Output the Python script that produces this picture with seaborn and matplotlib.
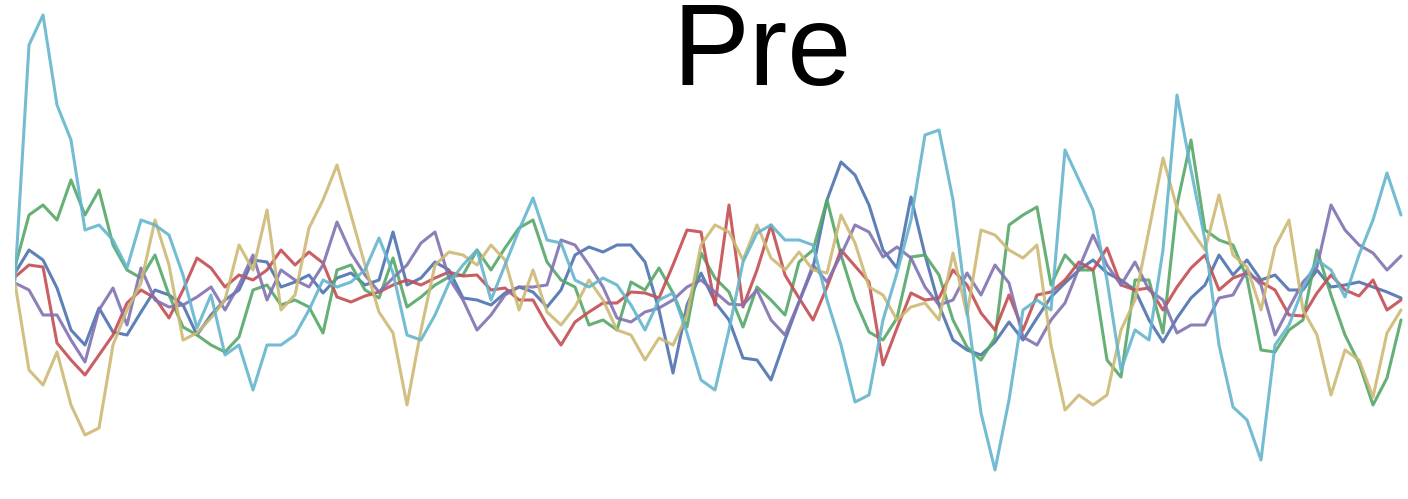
import numpy as np
import pandas as pd
import matplotlib
matplotlib.use("Agg")
import matplotlib.pyplot as plt
import seaborn as sns

# Six traces, 100 samples each (arbitrary amplitude units)
blue = [7,30,20,-8,-50,-65,-28,-52,-55,-32,
        -10,-15,-25,-55,-35,-20,-10,20,18,-7,
        -2,5,-13,2,7,-5,0,48,-5,2,
        18,10,-18,-20,-25,-13,-7,-12,-27,-10,
        25,33,28,35,35,18,-30,-93,-25,7,
        -22,-40,-78,-80,-100,-60,-22,12,80,118,
        105,75,30,12,83,25,-25,-60,-70,-75,
        -62,-42,-60,-38,-17,-3,10,20,7,0,
        -10,-40,-62,-38,-18,-5,25,5,20,0,
        5,-10,-10,10,-7,-5,-2,-7,-12,-18]
green = [13,65,75,60,100,65,90,35,10,2,
         25,-15,-47,-55,-65,-72,-57,-10,-5,-25,
         -20,-27,-53,10,15,-10,-18,22,-27,-17,
         -5,3,5,30,10,32,52,60,18,0,
         -7,-45,-40,-50,-2,-10,12,-13,-47,27,
         2,-12,-47,-7,-20,-35,18,30,80,25,
         -20,-52,-60,-38,23,25,5,-40,-67,-80,
         -58,55,65,73,-5,25,10,10,-80,-97,
         0,0,-53,75,140,50,40,35,2,-70,
         -72,-50,-40,30,-15,-55,-83,-125,-98,-40]
red = [3,15,13,-63,-80,-95,-75,-55,-23,-10,
       -18,-38,-10,22,12,-7,5,0,10,30,
       15,28,17,-17,-22,-16,-12,-5,0,-5,
       2,8,4,5,-10,-8,-20,-20,-45,-65,
       -42,-32,-23,-23,-12,-13,-18,15,50,48,
       -25,75,-27,10,55,5,-18,-40,-7,30,
       14,-2,-85,-48,-13,-20,-18,10,-5,-33,
       -50,-15,-50,-15,-12,0,18,10,32,-5,
       -10,-8,-30,-7,12,25,-10,2,7,-2,
       -10,-35,-36,-13,5,-10,-16,0,-30,-20]
purple = [-3,-10,-35,-35,-60,-82,-30,-8,-45,12,
          -20,-27,-25,-17,-7,-30,-5,25,-20,10,
          0,-7,15,58,27,5,-12,2,15,37,
          48,2,-20,-50,-35,-15,-7,-7,-5,40,
          35,15,-7,-38,-42,-32,-28,-20,-7,0,
          -12,-24,-25,-10,-40,-55,-22,15,-2,25,
          55,48,23,33,22,-7,-25,-20,7,-15,
          15,-3,-57,-65,-40,-23,12,45,15,-5,
          18,-10,-20,-53,-45,-45,-18,-15,10,-5,
          -55,-28,-2,13,75,50,35,27,10,24]
yellow = [-3,-90,-105,-72,-125,-155,-148,-65,-30,-3,
          60,15,-60,-53,-38,-20,35,10,70,-30,
          -15,52,80,115,65,15,-32,-53,-125,-50,
          15,28,25,15,35,20,-30,10,-32,-45,
          -27,0,-20,-50,-55,-80,-58,-65,-35,35,
          55,48,20,55,22,10,28,10,7,65,
          37,-7,-15,-40,-27,-23,-40,27,-35,50,
          45,30,22,35,-65,-130,-115,-125,-115,-50,
          -20,50,122,72,50,30,85,25,13,-30,
          33,60,-30,-55,-115,-70,-80,-117,-53,-30]
cyan = [0,235,265,175,140,50,55,40,12,60,
        55,45,5,-48,-15,-75,-65,-110,-65,-65,
        -55,-30,0,-7,-2,10,42,7,-55,-60,
        -35,-3,15,30,-20,15,50,82,40,37,
        0,-7,2,-5,-25,-50,-20,-13,-53,-100,
        -110,-50,18,47,55,40,40,35,-20,-65,
        -122,-115,-40,7,60,145,150,80,-30,-133,
        -190,-120,-30,-20,-30,130,100,70,0,-90,
        -50,-60,30,185,110,40,-65,-127,-140,-180,
        -65,-45,-8,20,10,-17,25,60,107,65]

series_names = ["s1", "s2", "s3", "s4", "s5", "s6"]
series_values = [blue, green, red, purple, yellow, cyan]
palette = ["#4C72B0", "#55A868", "#C44E52", "#8172B2", "#CCB974", "#64B5CD"]

frames = []
for name, vals in zip(series_names, series_values):
    frames.append(pd.DataFrame({"t": np.arange(len(vals)), "v": vals, "series": name}))
df = pd.concat(frames, ignore_index=True)

sns.set_theme(style="white")
plt.rcParams['font.family'] = ['Liberation Sans', 'DejaVu Sans']

fig = plt.figure(figsize=(14.08, 4.99), dpi=100)
ax = fig.add_axes([15/1408, 0, 1 - 15/1408, 1])
sns.lineplot(data=df, x="t", y="v", hue="series", palette=palette,
             linewidth=2.2, alpha=0.9, legend=False, ax=ax)
ax.set_xlim(0, 99.5)
ax.set_ylim(-219, 280)
ax.set_axis_off()

fig.text(762/1408, 1 - 85/499, "Pre", ha="center", va="baseline",
         fontsize=83, color="black")

fig.savefig("out.png", dpi=100)
